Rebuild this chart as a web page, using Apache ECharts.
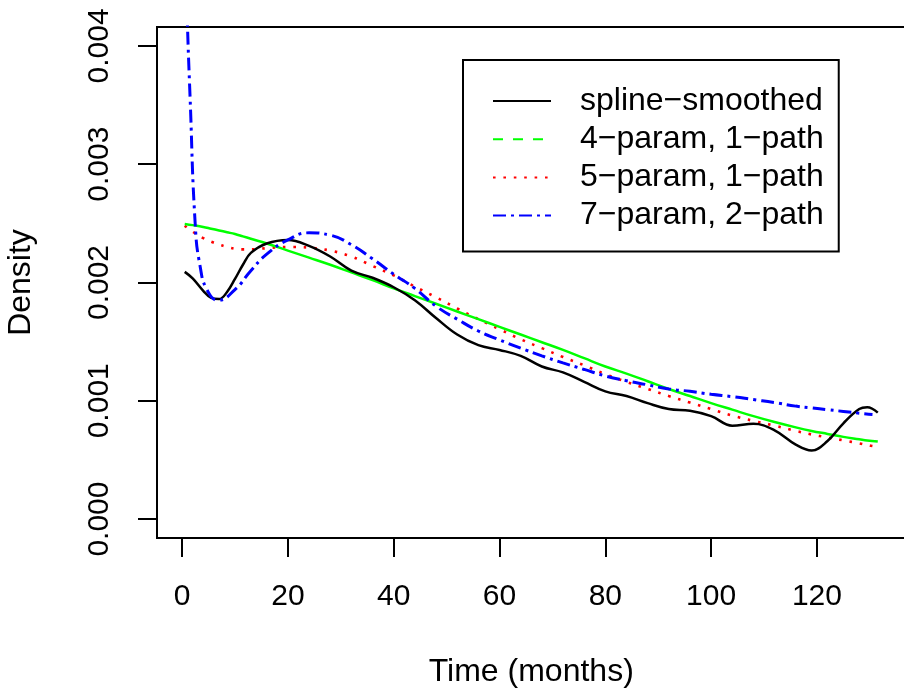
<!DOCTYPE html>
<html>
<head>
<meta charset="utf-8">
<script src="https://cdn.jsdelivr.net/npm/echarts@6/dist/echarts.min.js"></script>
<style>
  html, body { margin: 0; padding: 0; background: #fff; }
  #main { width: 904px; height: 690px; }
</style>
</head>
<body>
<div id="main"></div>
<script>
// time axis (months) shared by the spline and the 4/5-param fits
var months = [0.5, 2, 4, 5.5, 7, 8.5, 10, 11.5, 13, 16, 20, 24, 28, 32, 36, 40, 44, 48, 52, 56, 60,
  64, 68, 72, 76, 80, 84, 88, 92, 96, 100, 104, 108, 112, 116, 119, 122, 125, 128, 129.5, 131.5];

// densities in units of 0.001
var splineSmoothed = [2.09, 2.035, 1.93, 1.87, 1.86, 1.92, 2.03, 2.15, 2.25, 2.33, 2.36, 2.31, 2.22, 2.10, 2.04, 1.96,
  1.85, 1.70, 1.56, 1.47, 1.43, 1.38, 1.29, 1.24, 1.16, 1.08, 1.04, 0.98, 0.93, 0.915, 0.87, 0.79, 0.805, 0.75,
  0.63, 0.58, 0.66, 0.81, 0.93, 0.945, 0.90];
var fit4 = [2.495, 2.485, 2.47, 2.455, 2.44, 2.425, 2.41, 2.39, 2.37, 2.33, 2.27, 2.21, 2.15, 2.085, 2.02, 1.95,
  1.885, 1.82, 1.755, 1.69, 1.625, 1.56, 1.495, 1.43, 1.36, 1.29, 1.23, 1.165, 1.10, 1.04, 0.98, 0.925, 0.87,
  0.82, 0.775, 0.745, 0.72, 0.695, 0.675, 0.665, 0.655];
var fit5 = [2.48, 2.43, 2.375, 2.345, 2.32, 2.30, 2.285, 2.28, 2.28, 2.29, 2.30, 2.295, 2.27, 2.22, 2.14, 2.06,
  1.965, 1.875, 1.78, 1.69, 1.605, 1.52, 1.445, 1.37, 1.30, 1.225, 1.16, 1.10, 1.04, 0.985, 0.93, 0.875, 0.83,
  0.79, 0.745, 0.715, 0.69, 0.665, 0.64, 0.625, 0.61];

// 7-param, 2-path has its own grid (steep start)
var months7 = [0.5, 1, 1.5, 2.5, 3.4, 4.7, 6.8, 10, 13, 16, 20, 24, 28, 32, 36, 40, 44, 48, 52, 56, 60, 64, 68,
  72, 76, 80, 84, 88, 92, 96, 100, 104, 108, 112, 116, 119, 122, 125, 128, 130.5];
var fit7 = [5.0, 4.2, 3.58, 2.48, 2.14, 1.94, 1.85, 1.94, 2.10, 2.24, 2.36, 2.42, 2.40, 2.32, 2.20, 2.07, 1.95,
  1.80, 1.69, 1.59, 1.515, 1.445, 1.38, 1.32, 1.265, 1.21, 1.17, 1.135, 1.10, 1.08, 1.055, 1.035, 1.01, 0.985,
  0.955, 0.94, 0.925, 0.91, 0.895, 0.885];

var xTicks = [0, 20, 40, 60, 80, 100, 120];
var yTicks = [0, 0.001, 0.002, 0.003, 0.004];

function pairs(xs, ys) {
  return xs.map(function (x, i) { return [x, ys[i] / 1000]; });
}

var chart = echarts.init(document.getElementById('main'), null, { renderer: 'canvas' });
var font = 'Liberation Sans, Arial, sans-serif';

chart.setOption({
  animation: false,
  backgroundColor: '#fff',
  textStyle: { fontFamily: font, color: '#000' },
  grid: {
    left: 157, top: 27, width: 748.5, bottom: 152,
    containLabel: false, outerBoundsMode: 'none',
    show: true, borderColor: '#000', borderWidth: 2, backgroundColor: 'transparent'
  },
  legend: {
    orient: 'vertical',
    left: 463, top: 60,
    padding: [25, 15, 20, 29],
    itemWidth: 58, itemHeight: 30, itemGap: 6.2,
    backgroundColor: '#fff', borderColor: '#000', borderWidth: 2, borderRadius: 0,
    itemStyle: { opacity: 0 },
    textStyle: { fontSize: 32, fontFamily: font, color: '#000', lineHeight: 30, padding: [0, 0, 0, 24] },
    data: [
      { name: 'spline\u2212smoothed' },
      { name: '4\u2212param, 1\u2212path', lineStyle: { type: [10, 10] } },
      { name: '5\u2212param, 1\u2212path' },
      { name: '7\u2212param, 2\u2212path' }
    ]
  },
  xAxis: {
    type: 'value', min: -4.74, max: 136.74,
    name: 'Time (months)', nameLocation: 'middle', nameGap: 118,
    nameTextStyle: { fontSize: 32, color: '#000', fontFamily: font },
    axisLine: { show: false, onZero: false },
    axisTick: { show: true, inside: false, length: 19, customValues: xTicks, lineStyle: { color: '#000', width: 2 } },
    axisLabel: { fontSize: 30, color: '#000', margin: 44, customValues: xTicks, fontFamily: font },
    splitLine: { show: false }
  },
  yAxis: {
    type: 'value', min: -0.00016, max: 0.00416,
    name: 'Density', nameLocation: 'middle', nameGap: 120, nameRotate: 90,
    nameTextStyle: { fontSize: 32, color: '#000', fontFamily: font },
    axisLine: { show: false, onZero: false },
    axisTick: { show: true, inside: false, length: 19, customValues: yTicks, lineStyle: { color: '#000', width: 2 } },
    axisLabel: {
      fontSize: 30, color: '#000', margin: 42, rotate: 90, customValues: yTicks, fontFamily: font,
      formatter: function (v) { return v.toFixed(3); }
    },
    splitLine: { show: false }
  },
  series: [
    {
      name: 'spline\u2212smoothed', type: 'line', data: pairs(months, splineSmoothed),
      symbol: 'none', smooth: 0.4, clip: true,
      lineStyle: { color: '#000', width: 2.5 }, itemStyle: { color: '#000' }, z: 5
    },
    {
      name: '4\u2212param, 1\u2212path', type: 'line', data: pairs(months, fit4),
      symbol: 'none', smooth: 0.4, clip: true,
      lineStyle: { color: '#00ff00', width: 2.5 }, itemStyle: { color: '#00ff00' }, z: 4
    },
    {
      name: '5\u2212param, 1\u2212path', type: 'line', data: pairs(months, fit5),
      symbol: 'none', smooth: 0.4, clip: true,
      lineStyle: { color: '#ff0000', width: 2.6, type: [2.6, 7.8] }, itemStyle: { color: '#ff0000' }, z: 3
    },
    {
      name: '7\u2212param, 2\u2212path', type: 'line', data: pairs(months7, fit7),
      symbol: 'none', smooth: 0.5, clip: true,
      lineStyle: { color: '#0000ff', width: 3, type: [13, 5, 3, 5] }, itemStyle: { color: '#0000ff' }, z: 6
    }
  ]
});
</script>
</body>
</html>
